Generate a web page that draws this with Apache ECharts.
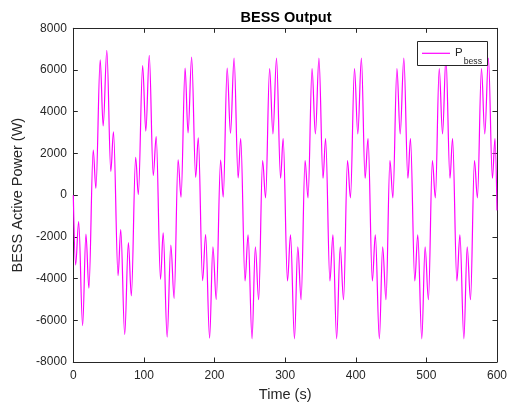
<!DOCTYPE html>
<html>
<head>
<meta charset="utf-8">
<script src="https://cdn.jsdelivr.net/npm/echarts@6/dist/echarts.min.js"></script>
<style>
html,body{margin:0;padding:0;background:#fff;}
#chart{width:510px;height:407px;}
</style>
</head>
<body>
<div id="chart"></div>
<script>
// Extrema (peaks/troughs) of the BESS output
const timeS = [
  0, 3.3, 7.6, 13.2, 17.9, 22.1, 28.2, 32.0, 38.1, 42.3, 47.5, 53.1, 56.9,
  63.4, 67.2, 72.8, 78.0, 82.2, 88.3, 92.1, 98.2, 102.7, 107.6, 113.2, 117.4,
  123.5, 127.3, 132.9, 138.1, 142.8, 148.4, 152.6, 158.3, 162.5, 167.6, 173.3, 177.0,
  183.1, 187.4, 193.0, 197.7, 202.4, 208.6, 212.3, 217.9, 222.6, 227.7, 233.4, 237.1,
  243.2, 247.5, 253.1, 257.8, 262.5, 268.1, 272.3, 278.0, 282.7, 287.8, 293.5, 297.2,
  303.3, 307.6, 313.2, 317.9, 322.6, 328.2, 332.4, 338.1, 342.8, 347.9, 353.6, 357.3,
  363.4, 367.7, 372.9, 378.0, 382.7, 388.3, 392.5, 398.2, 402.9, 408.0, 413.2, 417.4,
  423.5, 427.7, 433.4, 438.1, 442.8, 448.4, 452.6, 458.3, 462.9, 468.1, 473.8, 477.5,
  483.6, 487.8, 493.5, 498.2, 502.9, 508.5, 512.7, 518.2, 522.9, 527.7, 533.4, 537.1,
  543.2, 547.5, 553.1, 557.8, 562.5, 568.1, 572.3, 578.0, 582.7, 587.9, 593.5, 597.2,
  600
];
const powerW = [
  0, -3349, -1270, -6254, -1873, -4460, 2159, 333, 6492, 3317, 6937, 1143, 3032,
  -3857, -1651, -6683, -2270, -4825, 1810, 32, 6206, 3070, 6698, 937, 2810,
  -4032, -1810, -6810, -2397, -4952, 1698, -95, 6095, 2984, 6619, 857, 2746,
  -4095, -1889, -6857, -2476, -5000, 1683, -95, 6095, 2968, 6571, 825, 2714,
  -4111, -1905, -6889, -2476, -5016, 1651, -127, 6063, 2937, 6571, 810, 2714,
  -4111, -1905, -6889, -2476, -5016, 1651, -127, 6063, 2937, 6571, 810, 2714,
  -4111, -1905, -6889, -2476, -5016, 1651, -127, 6063, 2937, 6571, 810, 2714,
  -4111, -1905, -6889, -2476, -5016, 1651, -127, 6063, 2937, 6571, 810, 2714,
  -4111, -1905, -6889, -2476, -5016, 1651, -127, 6063, 2937, 6571, 810, 2714,
  -4111, -1905, -6889, -2476, -5016, 1651, -127, 6063, 2937, 6571, 810, 2714,
  -730
];
const xTicks = [0, 100, 200, 300, 400, 500, 600];
const yTicks = [-8000, -6000, -4000, -2000, 0, 2000, 4000, 6000, 8000];
const titleText = 'BESS Output';
const xName = 'Time (s)';
const yName = 'BESS Active Power (W)';
const seriesName = 'P_bess';

const AX = '#262626';
const FONT = '"Liberation Sans", Arial, Helvetica, sans-serif';
const data = timeS.map((t, i) => [t, powerW[i]]);
const plainNum = v => String(v);

const chart = echarts.init(document.getElementById('chart'), null, {renderer: 'canvas'});
function axis(extra) {
  return Object.assign({
    axisLine: {show: true, onZero: false, lineStyle: {color: AX, width: 1}},
    axisTick: {show: true, inside: true, length: 4.5, lineStyle: {color: AX, width: 1}},
    splitLine: {show: false},
    axisLabel: {show: false}
  }, extra);
}
chart.setOption({
  animation: false,
  backgroundColor: '#ffffff',
  title: {
    text: titleText, left: 286, top: 10, padding: 0, textAlign: 'center',
    textStyle: {fontSize: 14.5, fontWeight: 'bold', color: '#000', fontFamily: FONT}
  },
  grid: {left: 73.3, right: 10.7, top: 28.3, bottom: 42.7, containLabel: false},
  legend: {
    data: [seriesName], left: 422, top: 40.3, padding: 0, z: 10,
    icon: 'rect', itemWidth: 28, itemHeight: 1.2,
    itemStyle: {color: '#ff00ff', borderWidth: 0},
    formatter: () => '{p|P}{s|bess}',
    textStyle: {
      color: AX, fontFamily: FONT,
      rich: {
        p: {fontSize: 11.5, lineHeight: 12, padding: [7, 0, 7, 0], color: AX, fontFamily: FONT},
        s: {fontSize: 8.7, lineHeight: 9, padding: [17, 0, 0, 1], color: AX, fontFamily: FONT}
      }
    }
  },
  graphic: [{
    type: 'rect', z: 5, silent: true,
    shape: {x: 417.5, y: 41.5, width: 70, height: 24},
    style: {fill: '#ffffff', stroke: AX, lineWidth: 1}
  }],
  xAxis: [
    axis({
      type: 'value', min: xTicks[0], max: xTicks[xTicks.length - 1], interval: 100,
      position: 'bottom',
      name: xName, nameLocation: 'middle', nameGap: 25,
      nameTextStyle: {fontSize: 14.5, color: AX, fontFamily: FONT},
      axisLabel: {show: true, color: AX, fontSize: 12, fontFamily: FONT, margin: 8, formatter: plainNum}
    }),
    axis({
      type: 'value', min: xTicks[0], max: xTicks[xTicks.length - 1], interval: 100,
      position: 'top'
    })
  ],
  yAxis: [
    axis({
      type: 'value', min: yTicks[0], max: yTicks[yTicks.length - 1], interval: 2000,
      position: 'left',
      name: yName, nameLocation: 'middle', nameGap: 37,
      nameTextStyle: {fontSize: 14.5, color: AX, fontFamily: FONT},
      axisLabel: {show: true, color: AX, fontSize: 12, fontFamily: FONT, margin: 6.5, formatter: plainNum}
    }),
    axis({
      type: 'value', min: yTicks[0], max: yTicks[yTicks.length - 1], interval: 2000,
      position: 'right'
    })
  ],
  series: [{
    name: seriesName, type: 'line', data: data,
    xAxisIndex: 0, yAxisIndex: 0,
    showSymbol: false, symbol: 'none',
    smooth: 0.36, smoothMonotone: 'x',
    lineStyle: {color: '#ff00ff', width: 1.2},
    itemStyle: {color: '#ff00ff'},
    z: 2
  }]
});
</script>
</body>
</html>
